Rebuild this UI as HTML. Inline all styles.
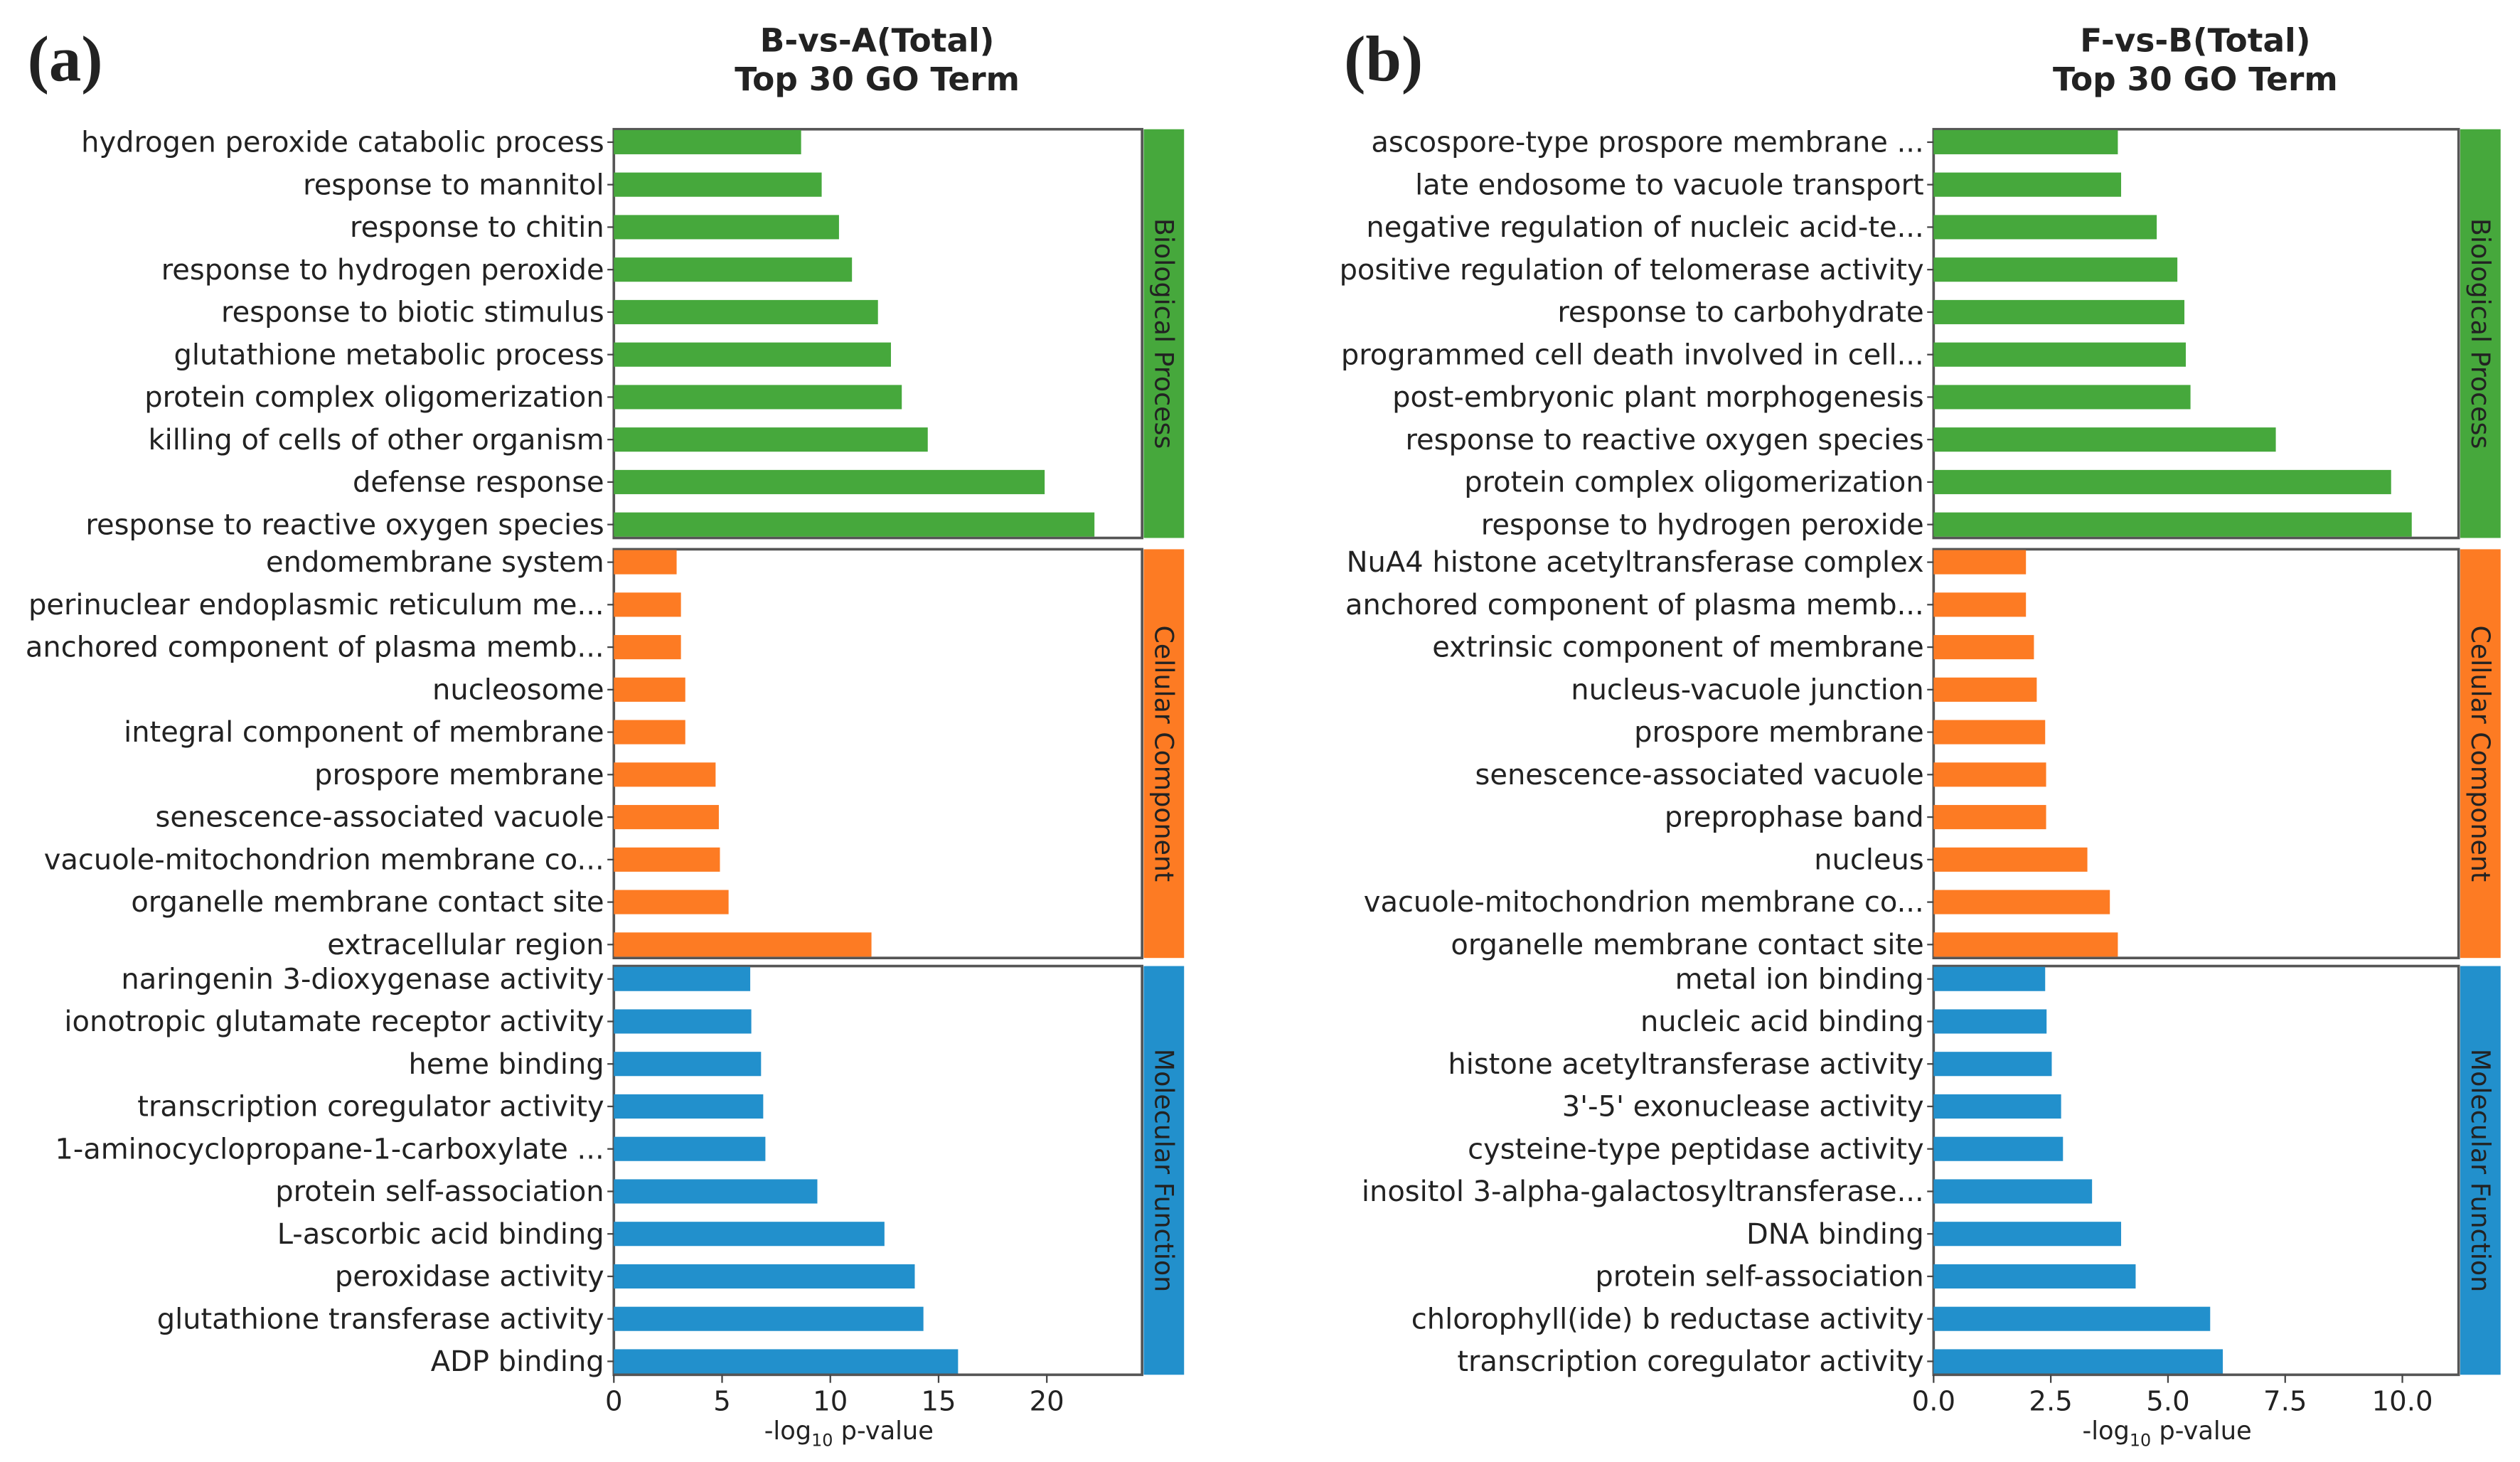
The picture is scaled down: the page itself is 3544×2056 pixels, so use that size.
<!DOCTYPE html>
<html><head><meta charset="utf-8"><style>
html,body{margin:0;padding:0;background:#fff;}
svg{display:block;}
text{font-family:"DejaVu Sans","Liberation Sans",sans-serif;fill:#222;}
</style></head><body>
<svg id="chart" xmlns="http://www.w3.org/2000/svg" width="3544" height="2056" viewBox="0 0 1560 905" preserveAspectRatio="none">
<rect x="0" y="0" width="1560" height="905" fill="#fff"/>
</svg>
<script>
// Panel (a) data
const aBPLabels = ["hydrogen peroxide catabolic process","response to mannitol","response to chitin","response to hydrogen peroxide","response to biotic stimulus","glutathione metabolic process","protein complex oligomerization","killing of cells of other organism","defense response","response to reactive oxygen species"];
const aBPValues = [8.65,9.6,10.4,11.0,12.2,12.8,13.3,14.5,19.9,22.2];
const aCCLabels = ["endomembrane system","perinuclear endoplasmic reticulum me...","anchored component of plasma memb...","nucleosome","integral component of membrane","prospore membrane","senescence-associated vacuole","vacuole-mitochondrion membrane co...","organelle membrane contact site","extracellular region"];
const aCCValues = [2.9,3.1,3.1,3.3,3.3,4.7,4.85,4.9,5.3,11.9];
const aMFLabels = ["naringenin 3-dioxygenase activity","ionotropic glutamate receptor activity","heme binding","transcription coregulator activity","1-aminocyclopropane-1-carboxylate ...","protein self-association","L-ascorbic acid binding","peroxidase activity","glutathione transferase activity","ADP binding"];
const aMFValues = [6.3,6.35,6.8,6.9,7.0,9.4,12.5,13.9,14.3,15.9];
const aTicks = [0,5,10,15,20];
const aTickLabels = ["0","5","10","15","20"];
// Panel (b) data
const bBPLabels = ["ascospore-type prospore membrane ...","late endosome to vacuole transport","negative regulation of nucleic acid-te...","positive regulation of telomerase activity","response to carbohydrate","programmed cell death involved in cell...","post-embryonic plant morphogenesis","response to reactive oxygen species","protein complex oligomerization","response to hydrogen peroxide"];
const bBPValues = [3.93,4.0,4.76,5.2,5.35,5.38,5.48,7.3,9.76,10.2];
const bCCLabels = ["NuA4 histone acetyltransferase complex","anchored component of plasma memb...","extrinsic component of membrane","nucleus-vacuole junction","prospore membrane","senescence-associated vacuole","preprophase band","nucleus","vacuole-mitochondrion membrane co...","organelle membrane contact site"];
const bCCValues = [1.97,1.97,2.14,2.2,2.38,2.4,2.4,3.28,3.76,3.93];
const bMFLabels = ["metal ion binding","nucleic acid binding","histone acetyltransferase activity","3'-5' exonuclease activity","cysteine-type peptidase activity","inositol 3-alpha-galactosyltransferase...","DNA binding","protein self-association","chlorophyll(ide) b reductase activity","transcription coregulator activity"];
const bMFValues = [2.38,2.41,2.52,2.72,2.76,3.38,4.0,4.31,5.9,6.17];
const bTicks = [0,2.5,5,7.5,10];
const bTickLabels = ["0.0","2.5","5.0","7.5","10.0"];
const groupNames = ["Biological Process","Cellular Component","Molecular Function"];

const svg = document.getElementById('chart');
const NS = 'http://www.w3.org/2000/svg';
function mk(tag, attrs, parent){
  const e = document.createElementNS(NS, tag);
  for (const k in attrs) e.setAttribute(k, attrs[k]);
  (parent||svg).appendChild(e);
  return e;
}
const colors = ["#46a83c","#fd7b23","#2290cc"];
const groupTops = [80, 340, 598];
const boxH = 253;
const rowStep = 26.3;
const barH = 15;

function panel(p){
  const g = mk('g', {});
  
  
  const xs = v => p.x0 + (v - 0) / p.xmax * (p.x1 - p.x0);
  const L = mk('text', {x: p.letterX, y: 50, 'font-size': 40, 'font-weight': 'bold', style: 'font-family:"Liberation Serif",serif', fill: '#000'}, g);
  L.textContent = p.letter;
  
  
  const t1 = mk('text', {x: p.titleX, y: 32, 'font-size': 20, 'font-weight': 'bold', 'text-anchor': 'middle', fill: '#111'}, g);
  t1.textContent = p.title;
  
  
  const t2 = mk('text', {x: p.titleX, y: 56, 'font-size': 20, 'font-weight': 'bold', 'text-anchor': 'middle', fill: '#111'}, g);
  t2.textContent = 'Top 30 GO Term';
  
  
  p.groups.forEach((grp, gi) => {
    const top = groupTops[gi];
    const box = mk('rect', {x: p.x0, y: top, width: p.x1 - p.x0, height: boxH, fill: 'none', stroke: '#555', 'stroke-width': 1.6}, g);
    
    
    grp.values.forEach((v, i) => {
      const cy = top + 8 + i * rowStep;
      const b = mk('rect', {x: xs(0), y: cy - barH/2, width: xs(v) - xs(0), height: barH, fill: colors[gi]}, g);
      
      
      mk('line', {x1: p.x0 - 4, x2: p.x0, y1: cy, y2: cy, stroke: '#444', 'stroke-width': 1}, g);
      const tl = mk('text', {x: p.x0 - 6, y: cy + 6, 'font-size': 17.6, 'text-anchor': 'end', fill: '#333'}, g);
      tl.textContent = grp.labels[i];
      
      
    });
    const sx = p.x1 + 1, sw = 25;
    const strip = mk('rect', {x: sx, y: top, width: sw, height: boxH, fill: colors[gi]}, g);
    
    
    const cx = sx + sw/2, cyy = top + boxH/2;
    const st = mk('text', {x: cx, y: cyy, 'font-size': 16, 'text-anchor': 'middle', transform: 'rotate(90 ' + cx + ' ' + cyy + ')', dy: 5.5, fill: '#222'}, g);
    st.textContent = groupNames[gi];
    
    
  });
  const axY = groupTops[2] + boxH;
  p.ticks.forEach((t, i) => {
    const x = xs(t);
    mk('line', {x1: x, x2: x, y1: axY, y2: axY + 5, stroke: '#444', 'stroke-width': 1}, g);
    const tt = mk('text', {x: x, y: axY + 22, 'font-size': 17, 'text-anchor': 'middle', fill: '#333'}, g);
    tt.textContent = p.tickLabels[i];
    
    
  });
  const xl = mk('text', {x: (p.x0 + p.x1)/2 - 18, y: 891, 'font-size': 15.5, 'text-anchor': 'middle', fill: '#333'}, g);
  xl.innerHTML = '-log<tspan font-size="10.5" dy="4">10</tspan><tspan dy="-4"> p-value</tspan>';
  
  
}

panel({id:'a', letter:'(a)', letterX:17, title:'B-vs-A(Total)', titleX:543, x0:380, x1:707, xmax:24.4,
  ticks:aTicks, tickLabels:aTickLabels,
  groups:[{labels:aBPLabels,values:aBPValues},{labels:aCCLabels,values:aCCValues},{labels:aMFLabels,values:aMFValues}]});
panel({id:'b', letter:'(b)', letterX:832, title:'F-vs-B(Total)', titleX:1359, x0:1197, x1:1522, xmax:11.2,
  ticks:bTicks, tickLabels:bTickLabels,
  groups:[{labels:bBPLabels,values:bBPValues},{labels:bCCLabels,values:bCCValues},{labels:bMFLabels,values:bMFValues}]});
</script>
</body></html>
